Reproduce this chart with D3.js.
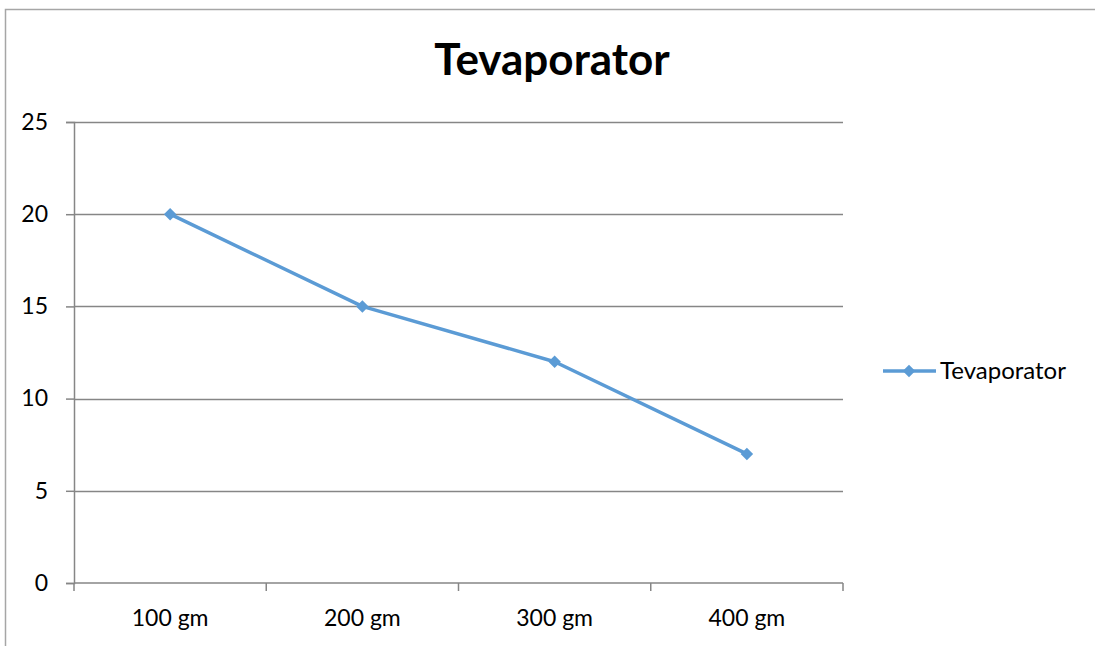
<!DOCTYPE html>
<html>
<head>
<meta charset="utf-8">
<script src="https://cdn.jsdelivr.net/npm/d3@7"></script>
<style>
  body { margin: 0; background: #fff; }
  svg { display: block; font-family: Lato, "Open Sans", sans-serif; }
</style>
</head>
<body>
<div id="chart"></div>
<script>
// chart data
var categories = ["100 gm", "200 gm", "300 gm", "400 gm"];
var seriesName = "Tevaporator";
var values = [20, 15, 12, 7];
var yTicks = [0, 5, 10, 15, 20, 25];

var W = 1095, H = 646;
var plot = {left: 74, right: 843, top: 122, bottom: 583};

var svg = d3.select("#chart").append("svg")
    .attr("width", W)
    .attr("height", H);

// outer chart border (cropped on right and bottom)
svg.append("rect")
    .attr("x", 5.5).attr("y", 9.5)
    .attr("width", W + 20).attr("height", H + 20)
    .attr("fill", "none")
    .attr("stroke", "#a6a6a6")
    .attr("stroke-width", 1.5);

var x = d3.scaleBand()
    .domain(categories)
    .range([plot.left, plot.right]);

var y = d3.scaleLinear()
    .domain([0, 25])
    .range([plot.bottom, plot.top]);

// y axis
var yAxis = svg.append("g")
    .attr("transform", "translate(" + plot.left + ",0)")
    .call(d3.axisLeft(y).tickValues(yTicks).tickSize(8).tickPadding(8))
yAxis.select(".domain").attr("stroke", "#868686").attr("stroke-width", 1.5);
yAxis.selectAll(".tick line").attr("stroke", "#868686").attr("stroke-width", 1.5);
yAxis.selectAll(".tick text")
    .attr("font-size", 23)
    .attr("fill", "#000")
    .attr("x", -26)
    .attr("font-family", "Lato, sans-serif");

// horizontal gridlines
svg.append("g")
    .selectAll("line")
    .data(yTicks.filter(function(d) { return d > 0; }))
    .enter().append("line")
    .attr("x1", plot.left)
    .attr("x2", plot.right)
    .attr("y1", function(d) { return Math.round(y(d)) + 0.5; })
    .attr("y2", function(d) { return Math.round(y(d)) + 0.5; })
    .attr("stroke", "#868686")
    .attr("stroke-width", 1.5);

// x axis with ticks on band boundaries
svg.append("line")
    .attr("x1", plot.left).attr("x2", plot.right)
    .attr("y1", plot.bottom).attr("y2", plot.bottom)
    .attr("stroke", "#868686").attr("stroke-width", 1.5);

var bounds = categories.map(function(c) { return x(c); }).concat([plot.right]);
svg.append("g")
    .selectAll("line")
    .data(bounds)
    .enter().append("line")
    .attr("x1", function(d) { return d; })
    .attr("x2", function(d) { return d; })
    .attr("y1", plot.bottom)
    .attr("y2", plot.bottom + 8)
    .attr("stroke", "#868686").attr("stroke-width", 1.5);

svg.append("g")
    .selectAll("text")
    .data(categories)
    .enter().append("text")
    .attr("x", function(d) { return x(d) + x.bandwidth() / 2; })
    .attr("y", 626)
    .attr("text-anchor", "middle")
    .attr("font-size", 23)
    .attr("fill", "#000")
    .text(function(d) { return d; });

// title
svg.append("text")
    .attr("x", 552)
    .attr("y", 75)
    .attr("text-anchor", "middle")
    .attr("font-size", 44)
    .attr("font-weight", "bold")
    .attr("fill", "#000")
    .text(seriesName);

// line
var color = "#5b9bd5";
var line = d3.line()
    .x(function(d, i) { return x(categories[i]) + x.bandwidth() / 2; })
    .y(function(d) { return y(d); });

svg.append("path")
    .datum(values)
    .attr("d", line)
    .attr("fill", "none")
    .attr("stroke", color)
    .attr("stroke-width", 3.5)
    .attr("stroke-linejoin", "round");

var diamond = d3.symbol().type(d3.symbolDiamond2).size(100);
svg.append("g")
    .selectAll("path")
    .data(values)
    .enter().append("path")
    .attr("d", diamond)
    .attr("transform", function(d, i) {
        return "translate(" + (x(categories[i]) + x.bandwidth() / 2) + "," + y(d) + ")";
    })
    .attr("fill", color);

// legend
var legY = 371;
svg.append("line")
    .attr("x1", 883).attr("x2", 936)
    .attr("y1", legY).attr("y2", legY)
    .attr("stroke", color).attr("stroke-width", 3.5);
svg.append("path")
    .attr("d", diamond)
    .attr("transform", "translate(909," + legY + ")")
    .attr("fill", color);
svg.append("text")
    .attr("x", 940)
    .attr("y", legY + 8)
    .attr("font-size", 24)
    .attr("fill", "#000")
    .text(seriesName);
</script>
</body>
</html>
